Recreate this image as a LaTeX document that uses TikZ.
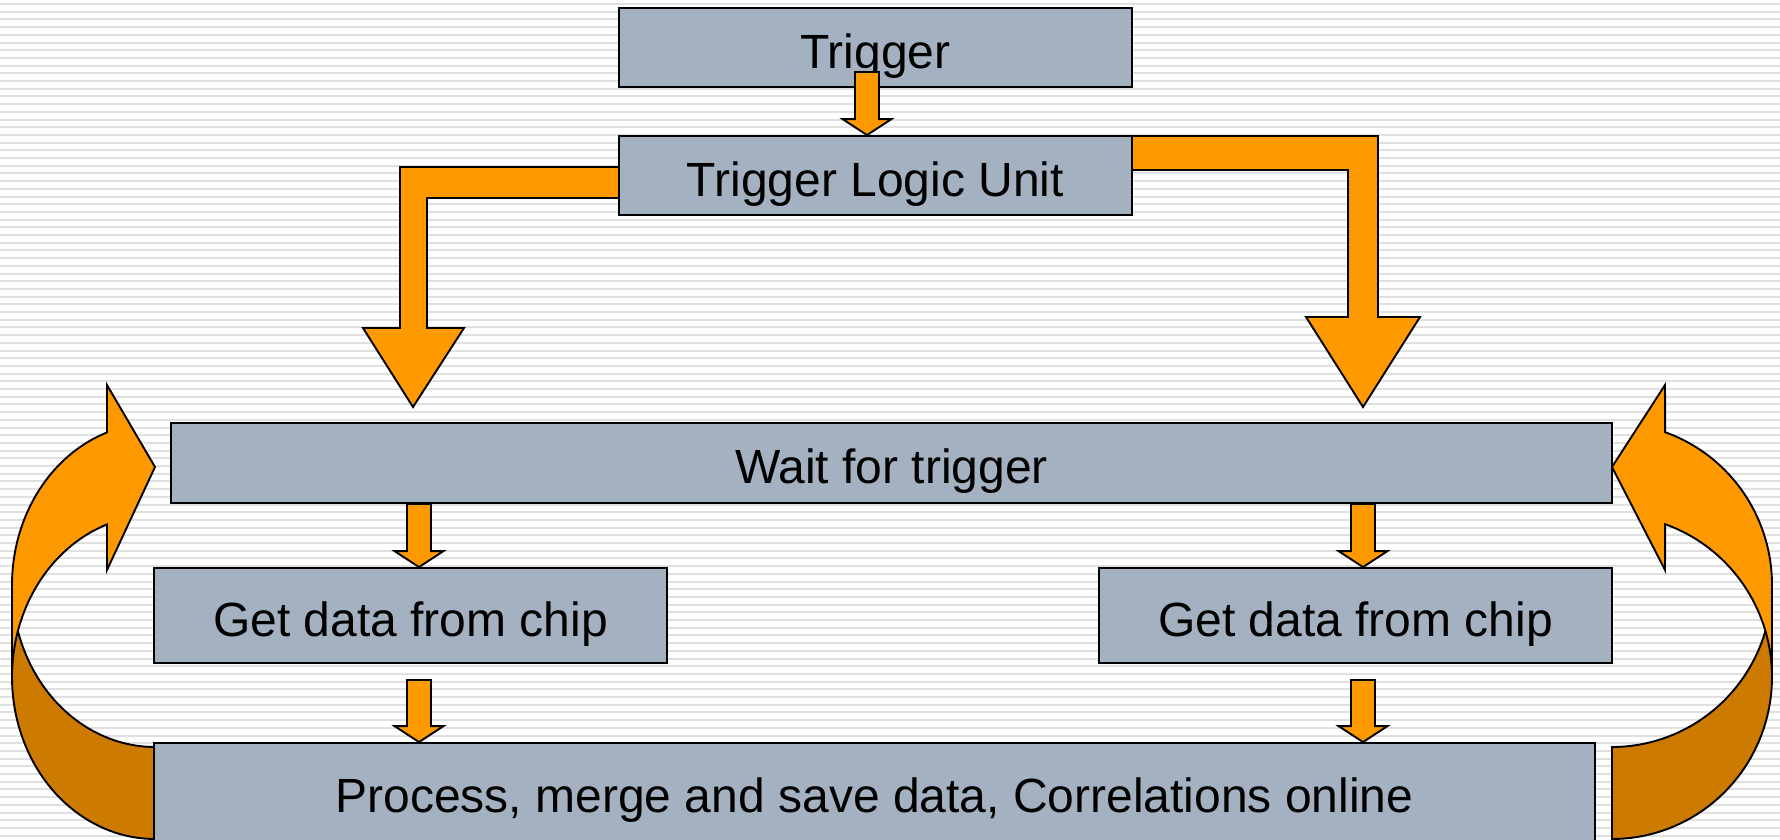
\documentclass[tikz,border=0pt]{standalone}
\usepackage{fontspec}
\setmainfont{Liberation Sans}
\usetikzlibrary{calc}
\definecolor{boxfill}{RGB}{164,177,192}
\definecolor{arrowfill}{RGB}{255,153,0}
\definecolor{arrowdark}{RGB}{204,122,0}
\definecolor{stripe}{RGB}{224,224,224}

% down-pointing block arrow from a top point to a tip point (x taken from the tip)
\newcommand{\blockdown}[2]{%
  \path[blockarrow] let \p1=(#1), \p2=(#2) in
    (\x2-12pt,\y1) -- (\x2+12pt,\y1) -- (\x2+12pt,\y2+16pt) -- (\x2+24.5pt,\y2+16pt)
    -- (\x2,\y2) -- (\x2-24.5pt,\y2+16pt) -- (\x2-12pt,\y2+16pt) -- cycle;}

\begin{document}
\begin{tikzpicture}[x=1pt,y=-1pt,
  box/.style={draw=black, line width=1.9pt, fill=boxfill, text=black,
    font=\fontsize{48}{56}\selectfont, text height=41pt, text depth=0pt, inner sep=0pt},
  blockarrow/.style={fill=arrowfill, draw=black, line width=1.9pt},
  bandback/.style={fill=arrowdark, draw=black, line width=1.9pt}]

% page and striped background
\useasboundingbox (0,0) rectangle (1780,839);
\clip (0,0) rectangle (1780,839);
\fill[white] (0,0) rectangle (1780,839);
\foreach \k in {0,...,108}
  \fill[stripe] (0,{3+7.7*\k}) rectangle (1780,{5+7.7*\k});

% left return arrow: back band, then front band with head
\path[bandback] plot[domain=180:90, samples=40] ({155+143*cos(\x)},{585+162*sin(\x)})
  -- plot[domain=90:180, samples=40] ({155+143*cos(\x)},{677+162*sin(\x)}) -- cycle;
\path[blockarrow] plot[domain=180:250.4, samples=40] ({155+143*cos(\x)},{585+162*sin(\x)})
  -- (107,385) -- (155,467) -- (107,570)
  -- plot[domain=250.4:180, samples=40] ({155+143*cos(\x)},{677+162*sin(\x)}) -- cycle;

% right return arrow
\path[bandback] plot[domain=0:90, samples=40] ({1612+160*cos(\x)},{585+162*sin(\x)})
  -- plot[domain=90:0, samples=40] ({1612+160*cos(\x)},{677+162*sin(\x)}) -- cycle;
\path[blockarrow] plot[domain=360:289.4, samples=40] ({1612+160*cos(\x)},{585+162*sin(\x)})
  -- (1665,385) -- (1612,467) -- (1665,570)
  -- plot[domain=289.4:360, samples=40] ({1612+160*cos(\x)},{677+162*sin(\x)}) -- cycle;

% bent arrows leaving the trigger logic unit
\path[blockarrow] (619,167) -- (400,167) -- (400,328) -- (363,328) -- (413,407)
  -- (464,328) -- (427,328) -- (427,198) -- (619,198) -- cycle;
\path[blockarrow] (1132,136) -- (1378,136) -- (1378,317) -- (1420,317) -- (1363,407)
  -- (1306,317) -- (1348,317) -- (1348,170) -- (1132,170) -- cycle;

% boxes
\node[box, minimum width=513pt, minimum height=79pt] (trig) at (875.5,47.5) {Trigger};
\node[box, minimum width=513pt, minimum height=79pt] (tlu) at (875.5,175.5) {Trigger Logic Unit};
\node[box, minimum width=1441pt, minimum height=80pt] (wait) at (891.5,463) {Wait for trigger};
\node[box, minimum width=513pt, minimum height=95pt] (gl) at (410.5,615.5) {Get data from chip};
\node[box, minimum width=513pt, minimum height=95pt] (gr) at (1355.5,615.5) {Get data from chip};
\node[box, minimum width=1441pt, minimum height=98pt] (proc) at (874.5,792) {Process, merge and save data, Correlations online};

% short connecting arrows
\coordinate (xt) at (867,0);
\coordinate (xl) at (419,0);
\coordinate (xr) at (1363,0);
\coordinate (tt) at (867,72);
\coordinate (gls) at ([yshift=-16pt]gl.south);
\coordinate (grs) at ([yshift=-16pt]gr.south);
\blockdown{tt}{xt |- tlu.north}
\blockdown{xl |- wait.south}{xl |- gl.north}
\blockdown{xr |- wait.south}{xr |- gr.north}
\blockdown{xl |- gls}{xl |- proc.north}
\blockdown{xr |- grs}{xr |- proc.north}
\end{tikzpicture}
\end{document}
